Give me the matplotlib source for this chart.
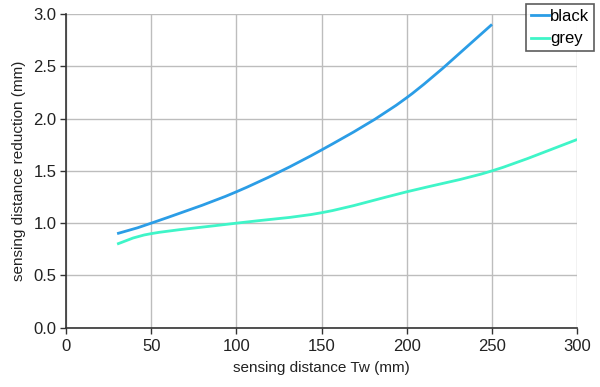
import numpy as np
import matplotlib
matplotlib.use("Agg")
import matplotlib.pyplot as plt
from matplotlib.path import Path
from matplotlib.patches import PathPatch
from matplotlib.lines import Line2D

# Data
black_x = [30, 50, 100, 150, 200, 250]
black_y = [0.9, 1.0, 1.3, 1.7, 2.2, 2.9]
grey_x = [30, 50, 100, 150, 200, 250, 300]
grey_y = [0.8, 0.9, 1.0, 1.1, 1.3, 1.5, 1.8]

x_ticks = [0, 50, 100, 150, 200, 250, 300]
y_ticks = [0.0, 0.5, 1.0, 1.5, 2.0, 2.5, 3.0]

blue = "#2b9de6"
aqua = "#3ff5c8"

plt.rcParams['font.family'] = ['Liberation Sans', 'DejaVu Sans']


# Smoothed line (like a spreadsheet "smoothed line") as a bezier path
def smooth_path(xs, ys, t=1 / 6):
    p = np.column_stack([xs, ys]).astype(float)
    verts = [p[0]]
    codes = [Path.MOVETO]
    n = len(p)
    for i in range(n - 1):
        p0 = p[i - 1] if i > 0 else p[i]
        p1 = p[i]
        p2 = p[i + 1]
        p3 = p[i + 2] if i + 2 < n else p[i + 1]
        c1 = p1 + (p2 - p0) * t
        c2 = p2 - (p3 - p1) * t
        verts += [c1, c2, p2]
        codes += [Path.CURVE4] * 3
    return Path(verts, codes)


fig = plt.figure(figsize=(6, 3.87), dpi=100)
ax = fig.add_axes([0.11, 0.153, 0.852, 0.811])

for xs, ys, c in [(black_x, black_y, blue), (grey_x, grey_y, aqua)]:
    ax.add_patch(PathPatch(smooth_path(xs, ys), facecolor='none',
                           edgecolor=c, lw=2, capstyle='butt', zorder=3))

ax.set_xlim(0, 300)
ax.set_ylim(0, 3.0)
ax.set_xticks(x_ticks)
ax.set_yticks(y_ticks)
ax.set_yticklabels([f"{v:.1f}" for v in y_ticks])
ax.grid(True, color='#bdbdbd', lw=1)
ax.set_axisbelow(True)
for s in ['top', 'right']:
    ax.spines[s].set_visible(False)
for s in ['left', 'bottom']:
    ax.spines[s].set_color('#333333')
    ax.spines[s].set_linewidth(1.2)
ax.tick_params(direction='out', length=4, width=1, colors='#333333',
               labelsize=12, labelcolor='#222222')
ax.tick_params(axis='x', pad=4)
ax.tick_params(axis='y', pad=3)
ax.set_xlabel('sensing distance Tw (mm)', fontsize=11, color='#222222', labelpad=5)
ax.set_ylabel('sensing distance reduction (mm)', fontsize=11, color='#222222', labelpad=5)

handles = [Line2D([], [], color=blue, lw=2), Line2D([], [], color=aqua, lw=2)]
leg = fig.legend(handles, ['black', 'grey'], loc='upper right',
                 bbox_to_anchor=(0.99, 0.99), fontsize=12, frameon=True,
                 fancybox=False, handlelength=1.1, handletextpad=0.05,
                 borderpad=0.3, labelspacing=0.45, borderaxespad=0)
leg.get_frame().set_edgecolor('#333333')
leg.get_frame().set_linewidth(1.2)

fig.savefig('out.png', dpi=100)
